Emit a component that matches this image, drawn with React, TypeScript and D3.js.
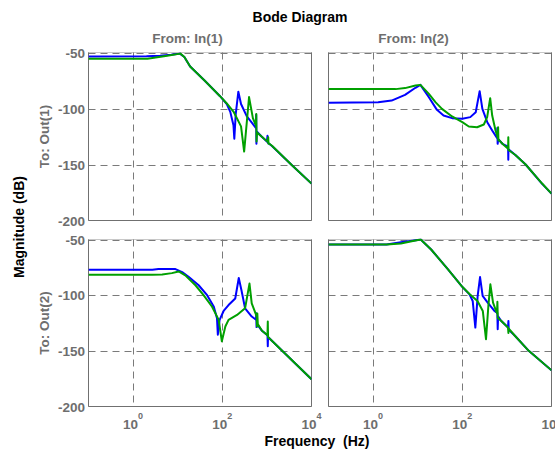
import React from "react";
import * as d3 from "d3";

// ---- Axis / label data ----
const yTickValues = [-50, -100, -150, -200];
const yTickLabels = ["-50", "-100", "-150", "-200"];
const xTickValues = [1, 100, 10000];
const xTickExponents = ["0", "2", "4"];
const xGridValues = [1, 100];
const yGridValues = [-50, -100, -150];
const inputLabels = ["From: In(1)", "From: In(2)"];
const outputLabels = ["To: Out(1)", "To: Out(2)"];
const titleText = "Bode Diagram";
const xLabelText = "Frequency  (Hz)";
const yLabelText = "Magnitude (dB)";

// ---- Series data: Out(1) <- In(1) ----
const o1i1BlueHz = [0.1, 2, 4, 7.1, 11.2, 14.1, 19, 40, 89, 126, 151, 178, 186, 200, 229, 263, 355, 468, 570, 575, 582, 592, 760, 1000, 1030, 1050, 1300, 3600, 10000];
const o1i1BlueDb = [-53.5, -53.3, -52.8, -52, -51, -54, -62.5, -75, -89, -96, -103, -115, -127, -105, -85, -96, -107, -113, -117.5, -105.6, -131.5, -120.5, -125, -129.6, -124.4, -130.5, -133.5, -150.5, -167];
const o1i1GreenHz = [0.1, 2.1, 5.8, 11.5, 14.1, 19, 40, 89, 126, 178, 263, 309, 398, 485, 570, 578, 586, 600, 760, 1040, 1070, 1085, 1120, 1300, 3600, 10000];
const o1i1GreenDb = [-55.6, -55.5, -53, -51, -54, -62.5, -75, -89, -95.5, -102.7, -116, -138.4, -89.8, -108.6, -115.4, -104.9, -129.5, -121.5, -125, -129.8, -125.6, -131.5, -131.3, -133.3, -150.5, -167];

// ---- Out(1) <- In(2) ----
const o1i2BlueHz = [0.1, 1.3, 2.6, 5.2, 8.9, 11.5, 17.8, 27, 38, 59, 100, 151, 200, 245, 282, 363, 468, 600, 610, 620, 640, 794, 1065, 1075, 1085, 1549, 2630, 6166, 10000];
const o1i2BlueDb = [-94.9, -94.5, -92.9, -87.8, -81.5, -78.9, -89.9, -101.2, -106.3, -108.6, -109.2, -107.7, -103.3, -84.5, -100.3, -112.2, -119.6, -126.2, -117.3, -131.5, -127.5, -131.5, -134, -145.8, -136.5, -141.5, -150, -167.3, -176];
const o1i2GreenHz = [0.1, 3.2, 5.2, 8.9, 11.5, 17.8, 25, 35, 59, 100, 140, 215, 304, 361, 422, 468, 556, 625, 635, 645, 660, 794, 1065, 1075, 1085, 1549, 2630, 6166, 10000];
const o1i2GreenDb = [-82.7, -82.7, -81.8, -79.5, -78.9, -86.9, -94.3, -100.3, -107.1, -112.2, -116.1, -116.7, -114.3, -107.7, -90.8, -106.3, -119.6, -126.2, -116.7, -128.6, -128, -131.5, -136, -125.6, -137, -141.5, -150, -167, -176];

// ---- Out(2) <- In(1) ----
const o2i1BlueHz = [0.1, 2.7, 3.7, 8.9, 12.6, 17.8, 29.5, 45.7, 64.6, 76, 79.4, 87, 107, 138, 195, 234, 269, 324, 457, 570, 578, 586, 600, 776, 1030, 1047, 1060, 2200, 10000];
const o2i1BlueDb = [-77.2, -77.2, -76.6, -76.6, -79.3, -83.7, -91.1, -100, -110.4, -120.7, -135.5, -122.2, -114.2, -108.9, -103, -84.6, -95.6, -111.8, -119.2, -122, -116.3, -128.7, -126, -132, -136, -145.9, -137.5, -150, -175.5];
const o2i1GreenHz = [0.1, 2.7, 4.5, 7.4, 10.5, 14.8, 25, 38, 59, 83, 97.7, 117, 138, 214, 324, 407, 457, 590, 600, 610, 625, 776, 1030, 1047, 1060, 2200, 10000];
const o2i1GreenDb = [-81.7, -81.7, -81.4, -80.2, -78.7, -82.2, -91.1, -100, -110.4, -122.2, -141.4, -128.1, -122.2, -117.8, -111.8, -89.6, -107.4, -119, -128.1, -116.5, -126, -132, -136, -123.7, -137.5, -150, -175.5];

// ---- Out(2) <- In(2) ----
const o2i2BlueHz = [0.1, 2, 4.2, 8.3, 11.7, 20, 46.8, 100, 145, 171, 196, 221, 250, 286, 371, 524, 610, 622, 635, 740, 1060, 1081, 1100, 1476, 3090, 10000];
const o2i2BlueDb = [-54.5, -54.5, -52.5, -50.9, -50, -59, -76.3, -92.5, -99.3, -105.2, -129.1, -100.7, -83.7, -100.7, -106.7, -114.2, -116, -130.6, -119, -123, -129, -123.1, -131, -136, -150, -167.5];
const o2i2GreenHz = [0.1, 2, 4.2, 8.3, 11.7, 20, 46.8, 100, 145, 219, 288, 340, 384, 426, 489, 571, 600, 612, 625, 740, 1060, 1081, 1100, 1476, 3090, 10000];
const o2i2GreenDb = [-54.5, -54.5, -53.5, -51.2, -50, -59, -76.3, -92.5, -99, -105.2, -114.2, -139.6, -109.7, -90.3, -106.7, -114.2, -116, -106, -120.5, -123, -129, -134, -130, -136, -150, -167.5];

const FONT = "'Liberation Sans', Arial, Helvetica, sans-serif";
const GRAY = "#6e6e6e";
const BLUE = "#0000ff";
const GREEN = "#00a000";

const colRanges: [number, number][] = [[88.5, 311.5], [328.5, 551.5]];
const rowRanges: [number, number][] = [[52.5, 220.5], [239.5, 406.5]];

const panels = [
  { r: 0, c: 0, series: [[o1i1BlueHz, o1i1BlueDb, BLUE], [o1i1GreenHz, o1i1GreenDb, GREEN]] },
  { r: 0, c: 1, series: [[o1i2BlueHz, o1i2BlueDb, BLUE], [o1i2GreenHz, o1i2GreenDb, GREEN]] },
  { r: 1, c: 0, series: [[o2i1BlueHz, o2i1BlueDb, BLUE], [o2i1GreenHz, o2i1GreenDb, GREEN]] },
  { r: 1, c: 1, series: [[o2i2BlueHz, o2i2BlueDb, BLUE], [o2i2GreenHz, o2i2GreenDb, GREEN]] },
] as const;

export default function App() {
  return (
    <svg
      width={555}
      height={455}
      style={{ position: "absolute", left: 0, top: 0, background: "#fff", overflow: "hidden" }}
      fontFamily={FONT}
      fontWeight="bold"
    >
      <rect x={0} y={0} width={555} height={455} fill="#fff" />
      <text x={300} y={21.5} textAnchor="middle" fontSize={14} fill="#000">{titleText}</text>
      {panels.map((p, i) => {
        const [x0, x1] = colRanges[p.c];
        const [y0, y1] = rowRanges[p.r];
        const xs = d3.scaleLog().domain([0.1, 10000]).range([x0, x1]);
        const ys = d3.scaleLinear().domain([-200, -50]).range([y1, y0]);
        const clipId = `clip${i}`;
        return (
          <g key={i}>
            <defs>
              <clipPath id={clipId}>
                <rect x={x0} y={y0 - 1} width={x1 - x0} height={y1 - y0 + 2} />
              </clipPath>
            </defs>
            <rect x={x0} y={y0} width={x1 - x0} height={y1 - y0} fill="#fff" stroke="#c8c8c8" strokeWidth={1} />
            {xGridValues.map((v) => (
              <line key={"gx" + v} x1={Math.round(xs(v)) + 0.5} x2={Math.round(xs(v)) + 0.5} y1={y0} y2={y1}
                stroke="#7a7a7a" strokeWidth={1} strokeDasharray="7,5" />
            ))}
            {yGridValues.map((v) => (
              <line key={"gy" + v} x1={x0} x2={x1} y1={Math.round(ys(v)) + 0.5} y2={Math.round(ys(v)) + 0.5}
                stroke="#7a7a7a" strokeWidth={1} strokeDasharray="7,5" />
            ))}
            <line x1={x0} x2={x0} y1={y0} y2={y1} stroke="#707070" />
            <line x1={x1} x2={x1} y1={y0} y2={y1} stroke="#707070" />
            <line x1={x0} x2={x1} y1={y1} y2={y1} stroke="#707070" />
            <g clipPath={`url(#${clipId})`}>
              {p.series.map((s, k) => {
                const hz = s[0] as readonly number[];
                const db = s[1] as readonly number[];
                const pts = hz.map((f, j) => [f, db[j]] as [number, number]);
                const line = d3.line<[number, number]>().x((d) => xs(d[0])).y((d) => ys(d[1]));
                return (
                  <path key={k} d={line(pts) || ""} fill="none" stroke={s[2] as string} strokeWidth={2}
                    strokeLinejoin="round" />
                );
              })}
            </g>
            {p.r === 0 && (
              <text x={p.c === 0 ? 187.5 : 413.5} y={42.5} textAnchor="middle" fontSize={13.5} fill={GRAY}>
                {inputLabels[p.c]}
              </text>
            )}
            {p.c === 0 && (
              <>
                {yTickValues.map((v, j) => (
                  <text key={"yt" + v} x={85} y={ys(v) + 5} textAnchor="end" fontSize={13.5} fill={GRAY}>
                    {yTickLabels[j]}
                  </text>
                ))}
                <text transform={`translate(48.5, ${(y0 + y1) / 2}) rotate(-90)`} textAnchor="middle"
                  fontSize={13.5} fill={GRAY}>
                  {outputLabels[p.r]}
                </text>
              </>
            )}
            {p.r === 1 && xTickValues.map((v, j) => (
              <text key={"xt" + v} x={xs(v)} y={429} textAnchor="middle" fontSize={13.5} fill={GRAY}>
                <tspan>10</tspan>
                <tspan dy={-10} fontSize={9}>{xTickExponents[j]}</tspan>
              </text>
            ))}
          </g>
        );
      })}
      <text x={317} y={446} textAnchor="middle" fontSize={14} fill="#000" style={{ whiteSpace: "pre" }}>
        {xLabelText}
      </text>
      <text transform="translate(23.5, 227) rotate(-90)" textAnchor="middle" fontSize={14} fill="#000">
        {yLabelText}
      </text>
    </svg>
  );
}
